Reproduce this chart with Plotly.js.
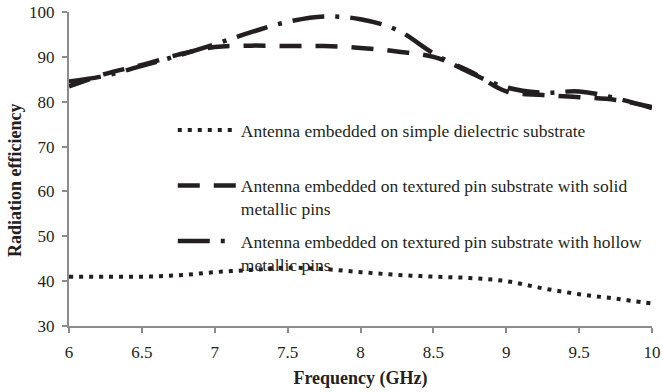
<!DOCTYPE html>
<html>
<head>
<meta charset="utf-8">
<script src="https://cdn.plot.ly/plotly-3.0.1.min.js"></script>
<style>html,body{margin:0;padding:0;background:#fff;}#chart{width:662px;height:392px;}</style>
</head>
<body>
<div id="chart"></div>
<script>
var freq = [6, 6.25, 6.5, 6.75, 7, 7.25, 7.5, 7.75, 8, 8.25, 8.5, 8.75, 9, 9.25, 9.5, 9.75, 10];
var effDielectric = [41.0, 41.0, 41.0, 41.3, 42.0, 42.5, 43.0, 42.7, 42.0, 41.4, 41.0, 40.7, 40.0, 38.4, 37.1, 36.1, 35.0];
var effSolid      = [83.4, 86.2, 88.2, 90.5, 92.2, 92.5, 92.4, 92.4, 92.0, 91.2, 90.0, 86.8, 82.3, 81.5, 81.0, 80.4, 78.8];
var effHollow     = [84.5, 85.8, 88.0, 90.3, 92.8, 95.5, 97.8, 99.0, 98.4, 96.0, 90.8, 86.5, 83.2, 82.0, 82.3, 80.8, 78.6];

var seriesNames = [
  'Antenna embedded on simple dielectric substrate<br>&nbsp;',
  'Antenna embedded on textured pin substrate with solid<br>metallic pins',
  'Antenna embedded on textured pin substrate with hollow<br>metallic pins'
];
var xTicks = [6, 6.5, 7, 7.5, 8, 8.5, 9, 9.5, 10];
var xTickText = ['6', '6.5', '7', '7.5', '8', '8.5', '9', '9.5', '10'];
var yTicks = [30, 40, 50, 60, 70, 80, 90, 100];

var serif = 'Liberation Serif';
var ink = '#231f20';

var traces = [
  {x: freq, y: effDielectric, name: seriesNames[0], mode: 'lines', legendgroup: 'a',
   line: {color: ink, width: 4, dash: '4px,6px', shape: 'spline'}},
  {x: freq, y: effSolid, name: seriesNames[1], mode: 'lines', legendgroup: 'b',
   line: {color: ink, width: 4.5, dash: '22px,14px', shape: 'spline'}},
  {x: freq, y: effHollow, name: seriesNames[2], mode: 'lines', legendgroup: 'c',
   line: {color: ink, width: 4.5, dash: '32px,11px,4px,11px', shape: 'spline'}}
];

var layout = {
  width: 662, height: 392,
  margin: {l: 69, r: 10, t: 12, b: 66},
  paper_bgcolor: '#fff', plot_bgcolor: '#fff',
  font: {family: serif, color: ink},
  showlegend: true,
  legend: {
    x: 0.178, y: 0.681, xanchor: 'left', yanchor: 'top',
    bgcolor: 'rgba(0,0,0,0)', font: {family: serif, size: 17.5, color: ink},
    traceorder: 'grouped', tracegroupgap: 7, itemwidth: 58, valign: 'top'
  },
  xaxis: {
    range: [6, 10], tickvals: xTicks, ticktext: xTickText,
    showgrid: false, zeroline: false, showline: true, linecolor: '#8c8c8c', linewidth: 2,
    ticks: 'outside', ticklen: 5, tickcolor: '#8c8c8c', tickwidth: 2, ticklabelstandoff: 5,
    tickfont: {family: serif, size: 17, color: ink},
    title: {text: '<b>Frequency (GHz)</b>', font: {family: serif, size: 18, color: ink}, standoff: 10}
  },
  yaxis: {
    range: [30, 100], tickvals: yTicks,
    showgrid: false, zeroline: false, showline: true, linecolor: '#8c8c8c', linewidth: 2,
    ticks: 'outside', ticklen: 5, tickcolor: '#8c8c8c', tickwidth: 2, ticklabelstandoff: 4,
    tickfont: {family: serif, size: 17, color: ink},
    title: {text: '<b>Radiation efficiency</b>&nbsp;&nbsp;&nbsp;&nbsp;&nbsp;', font: {family: serif, size: 18, color: ink}, standoff: 3}
  }
};

Plotly.newPlot('chart', traces, layout, {displayModeBar: false, staticPlot: true});
</script>
</body>
</html>
